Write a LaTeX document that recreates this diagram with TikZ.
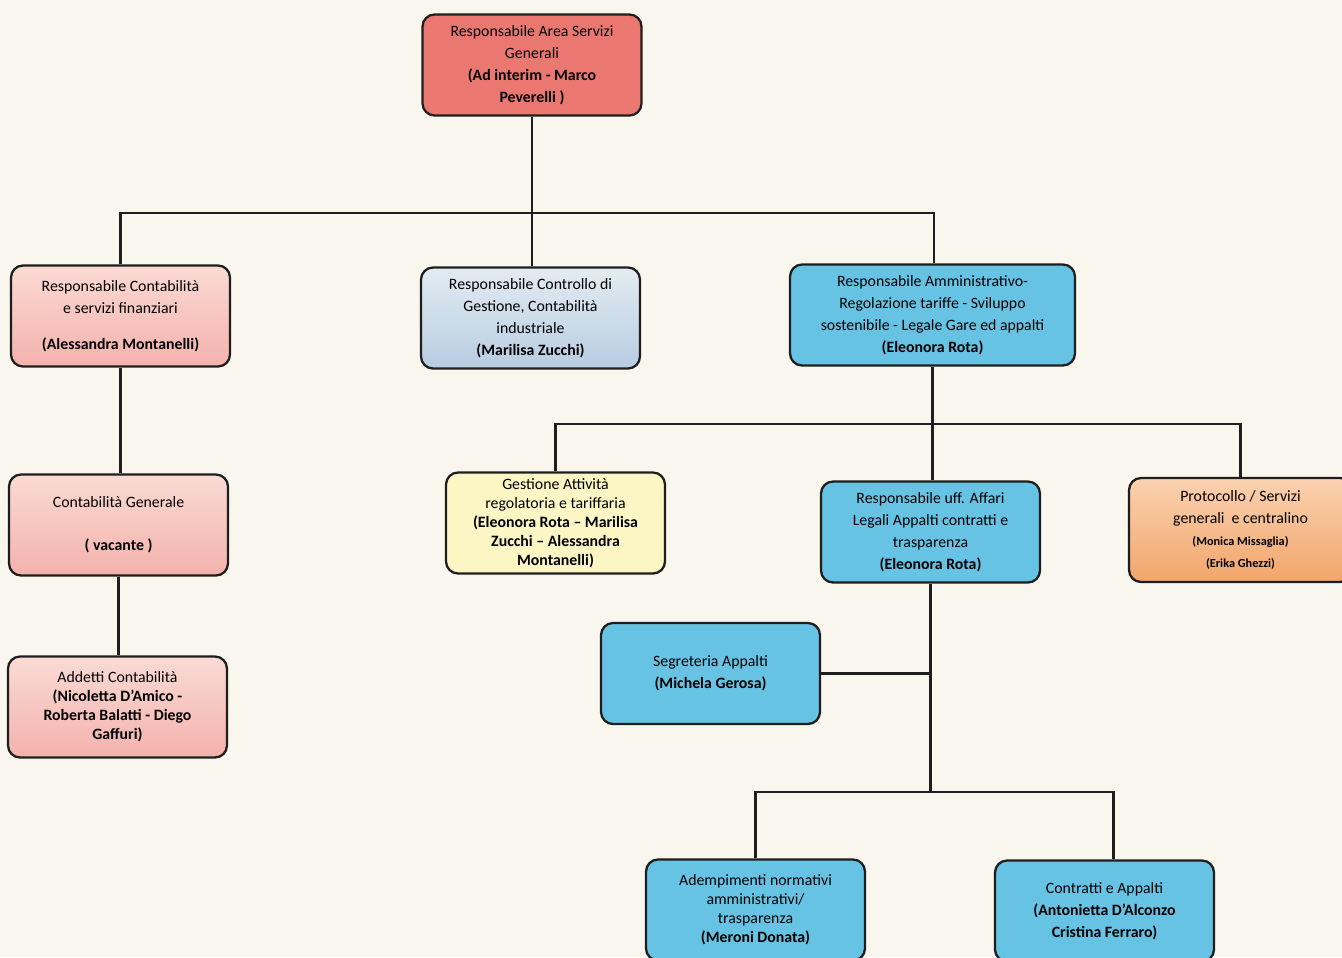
\documentclass[tikz,border=0pt]{standalone}
\usepackage{fontspec}
\setmainfont{Carlito}
\definecolor{bgc}{HTML}{F9F6EE}
\definecolor{redbox}{HTML}{EA7870}
\definecolor{pinkT}{HTML}{FBDAD4}
\definecolor{pinkB}{HTML}{F3B2AC}
\definecolor{grayT}{HTML}{E3ECF1}
\definecolor{grayB}{HTML}{B7CCE2}
\definecolor{bluebox}{HTML}{66C3E4}
\definecolor{yelbox}{HTML}{FCF5C4}
\definecolor{orT}{HTML}{FAD2B0}
\definecolor{orB}{HTML}{F2A56B}
\definecolor{edge}{HTML}{1E1E1E}
\tikzset{
  orgbox/.style={draw=edge, line width=1.3pt, rounded corners=0.24cm, align=center,
    inner sep=2pt, minimum width=4.38cm, minimum height=2.02cm,
    font=\fontsize{9}{12.5}\selectfont},
  tight/.style={font=\fontsize{9}{10.8}\selectfont},
  redfill/.style={fill=redbox},
  pinkfill/.style={top color=pinkT, bottom color=pinkB},
  grayfill/.style={top color=grayT, bottom color=grayB},
  bluefill/.style={fill=bluebox},
  yelfill/.style={fill=yelbox},
  orfill/.style={top color=orT, bottom color=orB},
  conn/.style={draw=edge, line width=1.4pt}
}
\begin{document}
\begin{tikzpicture}[x=0.02cm,y=-0.02cm]
\fill[bgc] (0,0) rectangle (1342,957);
\useasboundingbox (0,0) rectangle (1342,957);
\begin{scope}
\clip (0,0) rectangle (1342,957);
% nodes
\node[orgbox,redfill] (top) at (532,65) {Responsabile Area Servizi\\Generali\\\textbf{(Ad interim - Marco}\\\textbf{Peverelli )}};
\node[orgbox,pinkfill] (rc) at (120.5,316) {Responsabile Contabilità\\e servizi finanziari\\[8pt]\textbf{(Alessandra Montanelli)}};
\node[orgbox,grayfill] (ctrl) at (530.5,318) {Responsabile Controllo di\\Gestione, Contabilità\\industriale\\\textbf{(Marilisa Zucchi)}};
\node[orgbox,bluefill,minimum width=5.7cm] (amm) at (932.5,315) {Responsabile Amministrativo-\\Regolazione tariffe - Sviluppo\\sostenibile - Legale Gare ed appalti\\\textbf{(Eleonora Rota)}};
\node[orgbox,pinkfill] (cg) at (118.5,525) {Contabilità Generale\\[12pt]\textbf{( vacante )}};
\node[orgbox,pinkfill,tight] (add) at (117.5,707) {Addetti Contabilità\\\textbf{(Nicoletta D’Amico -}\\\textbf{Roberta Balatti - Diego}\\\textbf{Gaffuri)}};
\node[orgbox,yelfill,tight] (gest) at (555.5,523) {Gestione Attività\\regolatoria e tariffaria\\\textbf{(Eleonora Rota – Marilisa}\\\textbf{Zucchi – Alessandra}\\\textbf{Montanelli)}};
\node[orgbox,bluefill] (ruff) at (930.5,532) {Responsabile uff. Affari\\Legali Appalti contratti e\\trasparenza\\\textbf{(Eleonora Rota)}};
\node[orgbox,orfill,minimum width=4.46cm,minimum height=2.08cm] (prot) at (1240.5,530) {Protocollo / Servizi\\generali\ \ e centralino\\{\fontsize{7}{9}\selectfont\textbf{(Monica Missaglia)}}\\{\fontsize{7}{9}\selectfont\textbf{(Erika Ghezzi)}}};
\node[orgbox,bluefill] (segr) at (710.5,673.5) {Segreteria Appalti\\\textbf{(Michela Gerosa)}};
\node[orgbox,bluefill,tight] (adem) at (755.5,910) {Adempimenti normativi\\amministrativi/\\trasparenza\\\textbf{(Meroni Donata)}};
\node[orgbox,bluefill] (contr) at (1104.5,911) {Contratti e Appalti\\\textbf{(Antonietta D’Alconzo}\\\textbf{Cristina Ferraro)}};
\end{scope}
% junctions
\coordinate (j1) at (531,213);
\coordinate (j2) at (932,424);
\coordinate (j3) at (931,792);
\coordinate (cdrop) at ([xshift=0.18cm]contr.north);
\coordinate (adrop) at ([xshift=0.03cm]amm.north);
% connectors
\draw[conn] (top.south) -- (top.south |- ctrl.north);
\draw[conn] (rc.north) -- (rc.north |- j1) -- (adrop |- j1) -- (adrop);
\draw[conn] (rc.south) -- (rc.south |- cg.north);
\draw[conn] (cg.south) -- (cg.south |- add.north);
\draw[conn] (amm.south) -- (amm.south |- ruff.north);
\draw[conn] (gest.north) -- (gest.north |- j2) -- (prot.north |- j2) -- (prot.north);
\draw[conn] (ruff.south) -- (ruff.south |- j3);
\draw[conn] (segr.east) -- (segr.east -| ruff.south);
\draw[conn] (adem.north) -- (adem.north |- j3) -- (cdrop |- j3) -- (cdrop);
\end{tikzpicture}
\end{document}
